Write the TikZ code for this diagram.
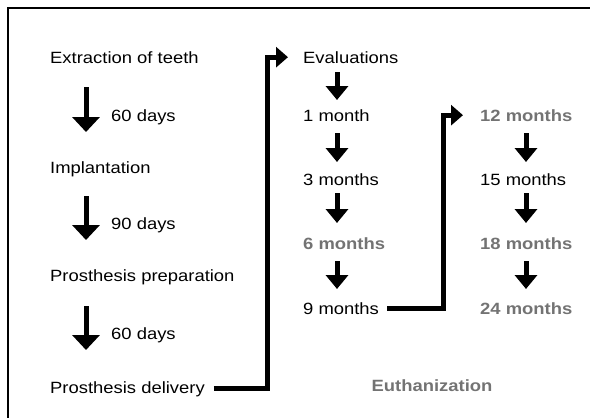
\documentclass[tikz,border=0pt]{standalone}
\usepackage{fontspec}
\setmainfont{Liberation Sans}[FakeStretch=1.13]
\usetikzlibrary{arrows.meta,calc}
\definecolor{stagegray}{gray}{0.45}
\begin{document}
\begin{tikzpicture}[x=1pt,y=-1pt,
    lbl/.style={anchor=base west,inner sep=0pt,font=\fontsize{16.3}{19}\selectfont},
    hl/.style={lbl,font=\fontsize{16.3}{19}\selectfont\bfseries,text=stagegray},
    bigdown/.style={line width=5pt,-{Triangle[width=27pt,length=15pt]}},
    down/.style={line width=5pt,-{Triangle[width=22pt,length=14pt]}},
    link/.style={line width=5pt,-{Triangle[width=20pt,length=12pt]}}]
  \useasboundingbox (0,0) rectangle (590,418);
  \draw[line width=1.5pt] (8,8) rectangle (600,430);
  % surgery steps
  \node[lbl] (ext) at (50,63) {Extraction of teeth};
  \node[lbl] (imp) at (50,173) {Implantation};
  \node[lbl] (prep) at (50,281) {Prosthesis preparation};
  \node[lbl] (del) at (50,393) {Prosthesis delivery};
  \node[lbl] (d1) at (111,121) {60 days};
  \node[lbl] (d2) at (111,229) {90 days};
  \node[lbl] (d3) at (111,339) {60 days};
  % evaluations
  \node[lbl] (eval) at (303,63) {Evaluations};
  \node[lbl] (m1) at (303,121) {1 month};
  \node[lbl] (m3) at (303,185) {3 months};
  \node[hl] (m6) at (303,249) {6 months};
  \node[lbl] (m9) at (303,314) {9 months};
  \node[hl] (m12) at (480,121) {12 months};
  \node[lbl] (m15) at (480,185) {15 months};
  \node[hl] (m18) at (480,249) {18 months};
  \node[hl] (m24) at (480,314) {24 months};
  \node[hl,anchor=base] (euth) at (432,391) {Euthanization};
  % arrows
  \draw[bigdown] ($(ext.base west)+(36,24)$) -- ($(imp.base west)+(36,-41)$);
  \draw[bigdown] ($(imp.base west)+(36,23)$) -- ($(prep.base west)+(36,-41)$);
  \draw[bigdown] ($(prep.base west)+(36,25)$) -- ($(del.base west)+(36,-43)$);
  \draw[down] ($(eval.base west)+(34,9)$) -- ($(m1.base west)+(34,-21)$);
  \draw[down] ($(m1.base west)+(34,12)$) -- ($(m3.base west)+(34,-23)$);
  \draw[down] ($(m3.base west)+(34,8)$) -- ($(m6.base west)+(34,-26)$);
  \draw[down] ($(m6.base west)+(34,12)$) -- ($(m9.base west)+(34,-25)$);
  \draw[down] ($(m12.base west)+(46,12)$) -- ($(m15.base west)+(46,-23)$);
  \draw[down] ($(m15.base west)+(46,8)$) -- ($(m18.base west)+(46,-26)$);
  \draw[down] ($(m18.base west)+(46,12)$) -- ($(m24.base west)+(46,-25)$);
  \draw[link] ([xshift=9pt]del.east) -| ([xshift=-36pt]eval.west) -- ([xshift=-15pt]eval.west);
  \draw[link] ([xshift=8pt]m9.east) -| ([xshift=-37pt]m12.west) -- ([xshift=-17pt]m12.west);
\end{tikzpicture}
\end{document}
